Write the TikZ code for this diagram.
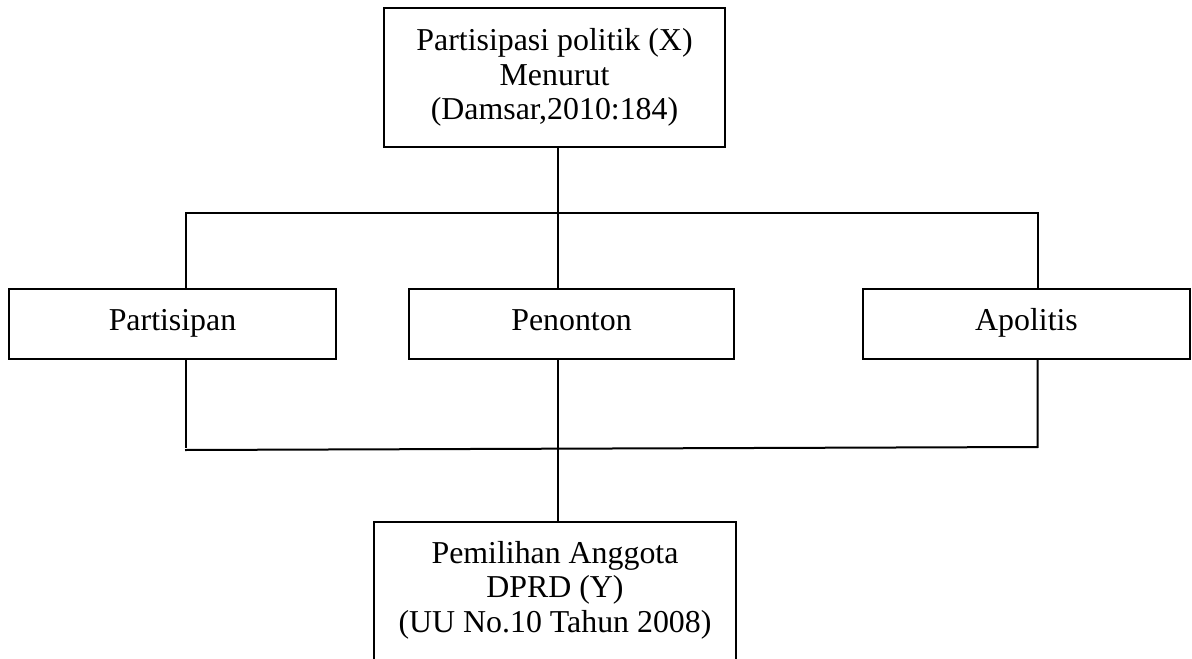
\documentclass[tikz,border=0pt]{standalone}
\usepackage{fontspec}
\setmainfont{Liberation Serif}
\begin{document}
\begin{tikzpicture}[
  x=0.75pt, y=-0.75pt,
  box/.style={draw=black, line width=1.5pt, rectangle, outer sep=0pt, inner sep=0pt, fill=white},
  caption/.style={align=center, inner sep=0pt, font=\fontsize{23.9pt}{26pt}\selectfont},
  oneline/.style={text height=16pt, text depth=6.5pt},
  wire/.style={line width=1.5pt, line cap=rect}
]
\useasboundingbox (0,0) rectangle (1192,659);
\clip (0,0) rectangle (1192,659);

% top box: independent variable
\node[box, caption, anchor=north west, minimum width=341*0.75pt, minimum height=139*0.75pt] (top) at (384,8)
  {Partisipasi politik (X)\\Menurut\\(Damsar,2010:184)};

% three categories
\node[box, caption, oneline, anchor=north west, minimum width=327*0.75pt, minimum height=70*0.75pt] (part) at (9,289) {Partisipan};
\node[box, caption, oneline, anchor=north west, minimum width=325*0.75pt, minimum height=70*0.75pt] (pen) at (409,289) {Penonton};
\node[box, caption, oneline, anchor=north west, minimum width=327*0.75pt, minimum height=70*0.75pt] (apo) at (863,289) {Apolitis};

% bottom box: dependent variable (runs off the lower edge)
\node[box, anchor=north west, minimum width=362*0.75pt, minimum height=200*0.75pt] (dprd) at (374,522) {};
\node[caption] (dprdtext) at (555,590) {Pemilihan Anggota\\DPRD (Y)\\(UU No.10 Tahun 2008)};

% junction points
\coordinate (trunk) at (558,0);
\coordinate (tl) at (186,213);
\coordinate (tr) at (1037.5,213);
\coordinate (blv) at (186,447);
\coordinate (bl) at (186,450);
\coordinate (br) at (1037.5,447);

% upper branching
\draw[wire] (top.south -| trunk) -- (pen.north -| trunk);
\draw[wire] (part.north -| tl) -- (tl) -- (tr) -- (apo.north -| tr);

% lower merging
\draw[wire] (part.south -| tl) -- (blv);
\draw[wire] (bl) -- (br) -- (apo.south -| tr);
\draw[wire] (pen.south -| trunk) -- (dprd.north -| trunk);
\end{tikzpicture}
\end{document}
